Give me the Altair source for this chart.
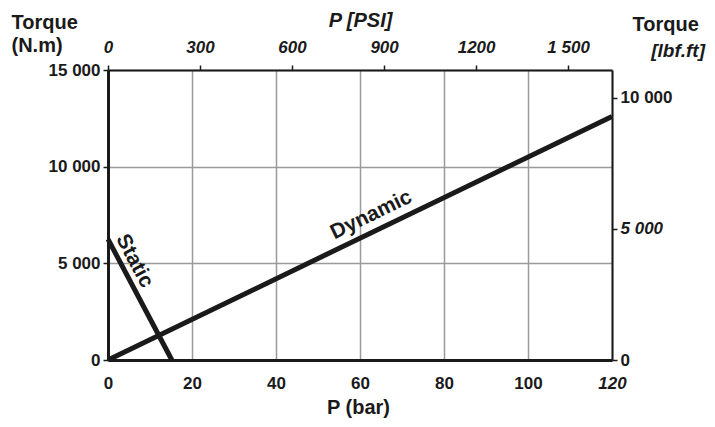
import altair as alt
import pandas as pd

# ---------------- data ----------------
series = ["Dynamic", "Dynamic", "Static", "Static"]
pressure_bar = [0, 120, 0, 15.2]
torque_nm = [0, 12600, 6250, 0]

label_text = ["Dynamic", "Static"]
label_bar = [62.7, 6.3]
label_nm = [7500, 5120]

bar_ticks = [0, 20, 40, 60, 80, 100, 120]
bar_tick_labels = ["0", "20", "40", "60", "80", "100", "120"]
nm_ticks = [0, 5000, 10000, 15000]
nm_tick_labels = ["0", "5 000", "10 000", "15 000"]
psi_ticks = [0, 300, 600, 900, 1200, 1500]
psi_tick_labels = ["0", "300", "600", "900", "1200", "1 500"]
lbf_ticks = [0, 5000, 10000]
lbf_tick_labels = ["0", "5 000", "10 000"]

bar_domain = [0, 120]
nm_domain = [0, 15000]
psi_domain = [0, 1643]
lbf_domain = [0, 11063]

FONT = "Liberation Sans"
INK = "#1a1a1a"
GRID = "#9a9a9a"


def label_expr(values, labels):
    expr = "''"
    for v, l in reversed(list(zip(values, labels))):
        expr = f"datum.value == {v} ? '{l}' : ({expr})"
    return expr


lines_df = pd.DataFrame({"series": series, "bar": pressure_bar, "nm": torque_nm})
labels_df = pd.DataFrame({"text": label_text, "bar": label_bar, "nm": label_nm})
axis_df = pd.DataFrame({"psi": psi_domain, "lbf": lbf_domain})

common_axis = dict(
    labelFont=FONT, labelFontSize=17, labelFontWeight="bold", labelColor=INK,
    titleFont=FONT, titleFontSize=20, titleFontWeight="bold", titleColor=INK,
    domainColor=INK, tickColor=INK, tickWidth=1.5,
)

x_bar = alt.X(
    "bar:Q",
    scale=alt.Scale(domain=bar_domain, nice=False, zero=False),
    axis=alt.Axis(
        orient="bottom", values=bar_ticks,
        labelExpr=label_expr(bar_ticks, bar_tick_labels),
        labelFontStyle={"condition": {"test": "datum.value == 120", "value": "italic"}, "value": "normal"},
        grid=True, gridColor=GRID, gridWidth=1.5, tickSize=0, domainWidth=3,
        labelPadding=15, labelFlush=False,
        title="P (bar)", titleBaseline="alphabetic", titleY=53, titleX=250,
        **common_axis,
    ),
)
y_nm = alt.Y(
    "nm:Q",
    scale=alt.Scale(domain=nm_domain, nice=False, zero=False),
    axis=alt.Axis(
        orient="left", values=nm_ticks,
        labelExpr=label_expr(nm_ticks, nm_tick_labels),
        grid=True, gridColor=GRID, gridWidth=1.5, tickSize=5, domainWidth=3,
        labelPadding=3, labelFlush=False,
        title=["Torque", "(N.m)"], titleAngle=0, titleAlign="left",
        titleBaseline="alphabetic", titleX=-97, titleY=-42, titleLineHeight=23,
        **common_axis,
    ),
)

lines = alt.Chart(lines_df).mark_line(color=INK, strokeWidth=5, strokeCap="butt").encode(
    x=x_bar, y=y_nm, detail="series:N"
)

dyn_text = alt.Chart(labels_df).transform_filter(alt.datum.text == "Dynamic").mark_text(
    font=FONT, fontSize=21, fontWeight="bold", color=INK, angle=334.2,
    align="center", baseline="middle",
).encode(x="bar:Q", y="nm:Q", text="text:N")

sta_text = alt.Chart(labels_df).transform_filter(alt.datum.text == "Static").mark_text(
    font=FONT, fontSize=21, fontWeight="bold", color=INK, angle=62,
    align="center", baseline="middle",
).encode(x="bar:Q", y="nm:Q", text="text:N")

main = alt.layer(lines, dyn_text, sta_text)

x_psi = alt.X(
    "psi:Q",
    scale=alt.Scale(domain=psi_domain, nice=False, zero=False),
    axis=alt.Axis(
        orient="top", values=psi_ticks,
        labelExpr=label_expr(psi_ticks, psi_tick_labels),
        labelFontStyle="italic", grid=False, tickSize=5, domainWidth=2,
        labelPadding=9, labelFlush=False,
        title="P [PSI]", titleFontStyle="italic", titleBaseline="alphabetic",
        titleX=252, titleY=-44,
        **common_axis,
    ),
)
y_lbf = alt.Y(
    "lbf:Q",
    scale=alt.Scale(domain=lbf_domain, nice=False, zero=False),
    axis=alt.Axis(
        orient="right", values=lbf_ticks,
        labelExpr=label_expr(lbf_ticks, lbf_tick_labels),
        labelFontStyle={"condition": {"test": "datum.value == 5000", "value": "italic"}, "value": "normal"},
        grid=False, tickSize=5, domainWidth=2, labelPadding=3, labelFlush=False,
        title="Torque", titleAngle=0, titleAlign="left", titleBaseline="alphabetic",
        titleX=20, titleY=-40,
        **common_axis,
    ),
)

ghost = alt.Chart(axis_df).mark_point(opacity=0).encode(x=x_psi, y=y_lbf)

unit_text = alt.Chart(pd.DataFrame({"t": ["[lbf.ft]"]})).mark_text(
    font=FONT, fontSize=19, fontWeight="bold", fontStyle="italic", color=INK,
    align="right", baseline="alphabetic",
).encode(x=alt.value(597), y=alt.value(-13), text="t:N")

secondary = alt.layer(ghost, unit_text)

chart = (
    alt.layer(main, secondary)
    .resolve_scale(x="independent", y="independent")
    .properties(
        width=504, height=290,
        autosize=alt.AutoSizeParams(type="none"),
        padding={"left": 100, "top": 62, "right": 95, "bottom": 59},
        background="white",
    )
    .configure_view(strokeOpacity=0)
)

chart.save("out.html", embed_options={"renderer": "svg", "actions": False})
